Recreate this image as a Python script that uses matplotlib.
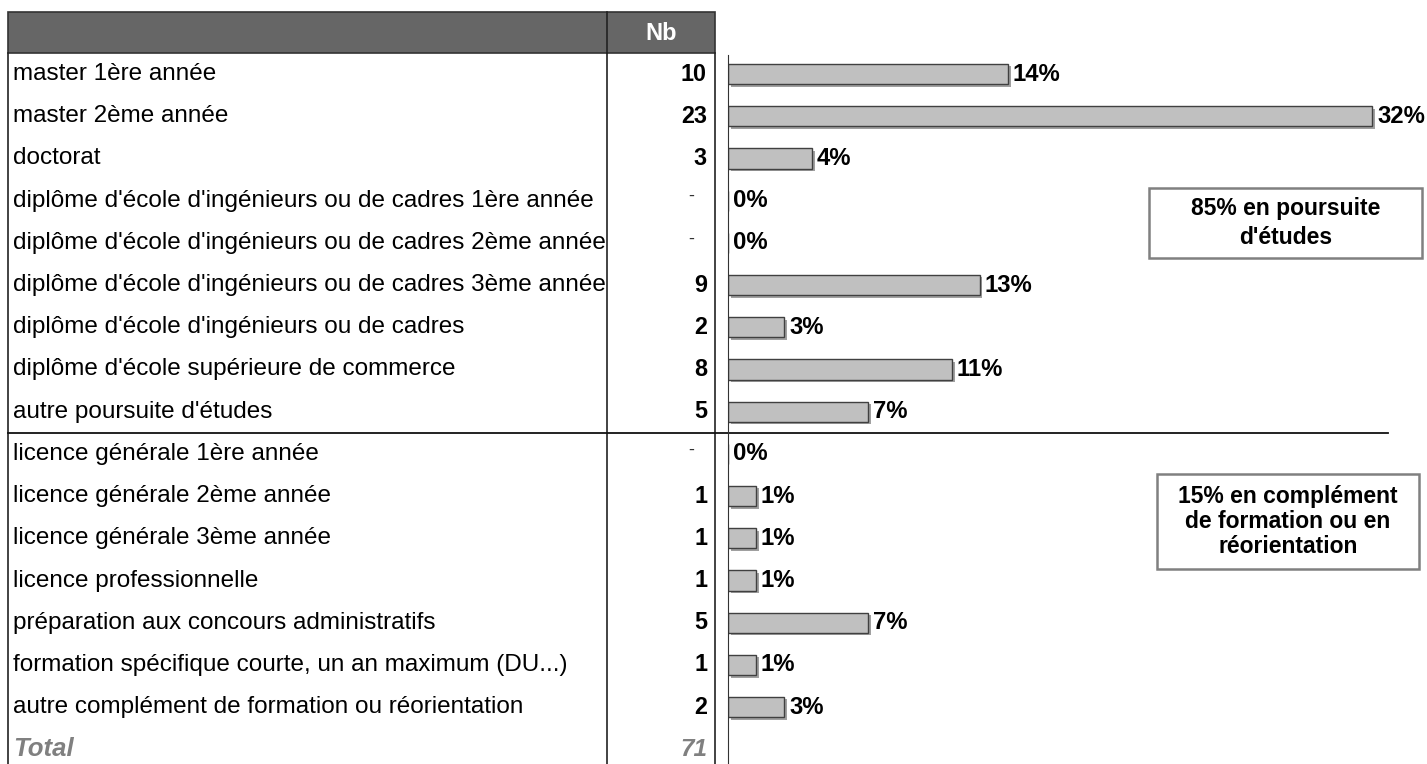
import matplotlib
matplotlib.use("Agg")
import matplotlib.pyplot as plt
import matplotlib.patheffects as pe
from matplotlib.patches import Rectangle

plt.rcParams['font.family'] = ['Liberation Sans', 'DejaVu Sans']

labels = [
    "master 1ère année",
    "master 2ème année",
    "doctorat",
    "diplôme d'école d'ingénieurs ou de cadres 1ère année",
    "diplôme d'école d'ingénieurs ou de cadres 2ème année",
    "diplôme d'école d'ingénieurs ou de cadres 3ème année",
    "diplôme d'école d'ingénieurs ou de cadres",
    "diplôme d'école supérieure de commerce",
    "autre poursuite d'études",
    "licence générale 1ère année",
    "licence générale 2ème année",
    "licence générale 3ème année",
    "licence professionnelle",
    "préparation aux concours administratifs",
    "formation spécifique courte, un an maximum (DU...)",
    "autre complément de formation ou réorientation",
]
counts = [10, 23, 3, 0, 0, 9, 2, 8, 5, 0, 1, 1, 1, 5, 1, 2]
total = 71
header = "Nb"
box_texts = ["85% en poursuite\nd'études",
             "15% en complément\nde formation ou en\nréorientation"]

W, H = 1427, 764
fig = plt.figure(figsize=(W / 100, H / 100), dpi=100)

# table layer in pixel coordinates
ax = fig.add_axes([0, 0, 1, 1])
ax.set_xlim(0, W)
ax.set_ylim(H, 0)
ax.axis('off')

x_left, x_col, x_right = 8, 607, 715
top, head_bot, row_h = 12, 53, 42.2
n_rows = len(labels) + 1
bottom = head_bot + n_rows * row_h

def row_y(i):
    return head_bot + (i + 0.5) * row_h

# header
ax.add_patch(Rectangle((x_left, top), x_right - x_left, head_bot - top,
                       facecolor='#666666', edgecolor='#333333', lw=1.2))
ax.plot([x_col, x_col], [top, head_bot], color='#222222', lw=1.2)
ax.text((x_col + x_right) / 2, (top + head_bot) / 2 + 1, header, color='white',
        fontsize=17, fontweight='bold', ha='center', va='center')

# borders
for xx in (x_left, x_col, x_right):
    ax.plot([xx, xx], [head_bot, bottom], color='#222222', lw=1.2)

for i, (lab, c) in enumerate(zip(labels, counts)):
    y = row_y(i)
    ax.text(x_left + 5, y, lab, fontsize=17.5, ha='left', va='center')
    if c:
        ax.text(x_right - 8, y, str(c), fontsize=16.8, fontweight='bold',
                ha='right', va='center')
    else:
        ax.text(x_right - 24, y - 4, "-", fontsize=13, ha='center', va='center',
                color='#333333')

yt = row_y(len(labels))
ax.text(x_left + 5, yt, "Total", fontsize=18.5, fontweight='bold', style='italic',
        color='#808080', ha='left', va='center')
ax.text(x_right - 8, yt, str(total), fontsize=17.5, fontweight='bold', style='italic',
        color='#808080', ha='right', va='center')

# separator between groups
sep = head_bot + 9 * row_h
ax.plot([x_left, 1388], [sep, sep], color='#111111', lw=1.3)

# annotation boxes
boxes = [(1149, 188, 273, 70), (1157, 474, 262, 95)]
spacing = [1.3, 1.1]
for (bx, by, bw, bh), t, ls in zip(boxes, box_texts, spacing):
    ax.add_patch(Rectangle((bx, by), bw, bh, facecolor='white',
                           edgecolor='#808080', lw=1.8))
    ax.text(bx + bw / 2, by + bh / 2, t, fontsize=16.5, fontweight='bold',
            ha='center', va='center', linespacing=ls)

# bar layer
pct = [c / total * 100 for c in counts]
bx0 = 728
px_per_pct = 644 / (23 / total * 100)
xmax = 40
bar_w = xmax * px_per_pct
axb = fig.add_axes([bx0 / W, (H - bottom) / H, bar_w / W, (bottom - head_bot) / H])
axb.patch.set_alpha(0)
axb.set_xlim(0, xmax)
axb.set_ylim(n_rows - 0.5, -0.5)
ypos = list(range(len(labels)))
bars = axb.barh(ypos, pct, height=0.48, color='#c0c0c0', edgecolor='#404040', lw=1)
for b in bars:
    b.set_path_effects([pe.SimplePatchShadow(offset=(1.8, -1.8),
                                             shadow_rgbFace='#a0a0a0', alpha=1),
                        pe.Normal()])
for y, p in zip(ypos, pct):
    axb.text(p + 0.25, y, f"{p:.0f}%", fontsize=17.2, fontweight='bold',
             ha='left', va='center')
for s in ('top', 'right', 'bottom'):
    axb.spines[s].set_visible(False)
axb.spines['left'].set_color('#333333')
axb.spines['left'].set_bounds(-0.45, n_rows - 0.5)
axb.set_xticks([])
axb.set_yticks([])

fig.savefig("out.png", dpi=100)
